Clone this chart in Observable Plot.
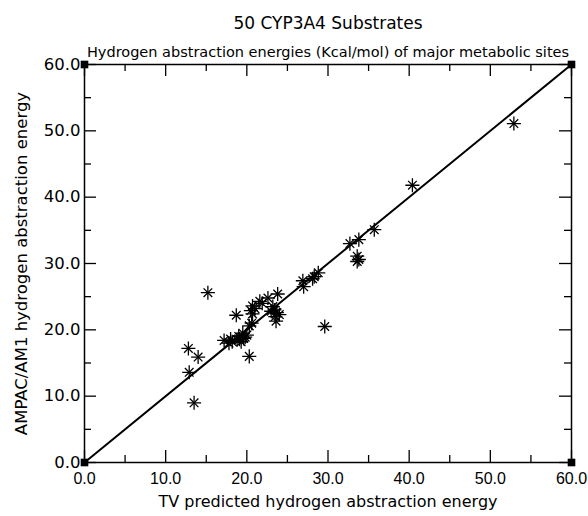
<!DOCTYPE html>
<html>
<head>
<meta charset="utf-8">
<script src="https://cdn.jsdelivr.net/npm/d3@7"></script>
<script src="https://cdn.jsdelivr.net/npm/@observablehq/plot@0.6"></script>
<style>
  html, body { margin: 0; padding: 0; background: #fff; }
  #chart svg { display: block; }
</style>
</head>
<body>
<div id="chart"></div>
<script>
const title = "50 CYP3A4 Substrates";
const subtitle = "Hydrogen abstraction energies (Kcal/mol) of major metabolic sites";
const xLabel = "TV predicted hydrogen abstraction energy";
const yLabel = "AMPAC/AM1 hydrogen abstraction energy";

// TV predicted energies (x) and AMPAC/AM1 energies (y)
const tvPredicted = [
  52.9, 40.4, 35.7, 33.8, 32.7, 33.6, 33.6, 28.8, 28.1, 26.9,
  27.0, 29.6, 23.8, 22.6, 21.9, 20.7, 20.5, 18.7, 23.4, 23.7,
  23.2, 23.6, 20.3, 19.5, 19.1, 18.2, 17.2, 20.3, 12.8, 14.0,
  12.9, 15.2, 13.5, 20.7, 19.8, 19.3, 18.8, 19.6, 20.0, 24.0,
  23.0, 21.0, 21.6, 18.0, 19.0, 23.5, 20.6, 33.8, 28.3, 17.8
];
const ampacAM1 = [
  51.1, 41.8, 35.1, 33.6, 33.0, 31.1, 30.3, 28.6, 27.7, 27.4,
  26.5, 20.5, 25.4, 24.8, 24.0, 23.6, 22.9, 22.2, 23.0, 22.6,
  23.5, 21.3, 20.6, 19.5, 18.6, 18.2, 18.4, 16.0, 17.2, 15.9,
  13.6, 25.6, 9.0, 22.4, 18.9, 18.2, 18.5, 18.7, 19.2, 22.3,
  22.8, 23.2, 24.3, 18.6, 19.0, 22.0, 21.0, 30.6, 28.0, 18.0
];
// Reference line y = x
const lineX = [0, 60];
const lineY = [0, 60];
const majorTicks = [0, 10, 20, 30, 40, 50, 60];
const minorTicks = [5, 15, 25, 35, 45, 55];
const cornerX = [0, 60, 0, 60];
const cornerY = [0, 0, 60, 60];

const points = tvPredicted.map((x, i) => ({x, y: ampacAM1[i]}));
const line = lineX.map((x, i) => ({x, y: lineY[i]}));
const corners = cornerX.map((x, i) => ({x, y: cornerY[i]}));

const W = 588, H = 516;
const mL = 84, mR = 17, mT = 64, mB = 54;
const innerH = H - mT - mB, innerW = W - mL - mR;
const font = "'DejaVu Sans', sans-serif";

const chart = Plot.plot({
  width: W, height: H,
  marginLeft: mL, marginRight: mR, marginTop: mT, marginBottom: mB,
  style: {fontFamily: font, background: "#fff", color: "#000"},
  x: {domain: [0, 60], ticks: majorTicks, label: null},
  y: {domain: [0, 60], ticks: majorTicks, label: null},
  marks: [
    Plot.frame({stroke: "#000", strokeWidth: 1.5}),
    // inward tick marks
    Plot.tickX(majorTicks, {x: d => d, insetTop: innerH - 12, stroke: "#000", strokeWidth: 1.3}),
    Plot.tickX(majorTicks, {x: d => d, insetBottom: innerH - 12, stroke: "#000", strokeWidth: 1.3}),
    Plot.tickX(minorTicks, {x: d => d, insetTop: innerH - 7, stroke: "#000", strokeWidth: 1.3}),
    Plot.tickX(minorTicks, {x: d => d, insetBottom: innerH - 7, stroke: "#000", strokeWidth: 1.3}),
    Plot.tickY(majorTicks, {y: d => d, insetRight: innerW - 12, stroke: "#000", strokeWidth: 1.3}),
    Plot.tickY(majorTicks, {y: d => d, insetLeft: innerW - 12, stroke: "#000", strokeWidth: 1.3}),
    Plot.tickY(minorTicks, {y: d => d, insetRight: innerW - 7, stroke: "#000", strokeWidth: 1.3}),
    Plot.tickY(minorTicks, {y: d => d, insetLeft: innerW - 7, stroke: "#000", strokeWidth: 1.3}),
    Plot.axisX(majorTicks, {anchor: "bottom", tickSize: 0, tickPadding: 10, tickFormat: d3.format(".1f"), fontSize: 16, fontFamily: "'Liberation Sans', sans-serif", fill: "#000", label: null}),
    Plot.axisY(majorTicks, {anchor: "left", tickSize: 0, tickPadding: 4, tickFormat: d3.format(".1f"), fontSize: 16.5, fill: "#000", label: null}),
    Plot.line(line, {x: "x", y: "y", stroke: "#000", strokeWidth: 2}),
    Plot.dot(points, {x: "x", y: "y", symbol: "plus", r: 4.6, stroke: "#000", strokeWidth: 1.3, clip: false}),
    Plot.dot(points, {x: "x", y: "y", symbol: "times", r: 4, stroke: "#000", strokeWidth: 1.3, clip: false}),
    Plot.dot(corners, {x: "x", y: "y", symbol: "square", r: 4.3, fill: "#000", stroke: "none"}),
    Plot.text([title], {frameAnchor: "top", text: d => d, dy: -48, fontSize: 17, fill: "#000"}),
    Plot.text([subtitle], {frameAnchor: "top", text: d => d, dy: -18, fontSize: 14.5, fill: "#000"}),
    Plot.text([xLabel], {frameAnchor: "bottom", text: d => d, dy: 44, fontSize: 16, fill: "#000"}),
    Plot.text([yLabel], {frameAnchor: "left", textAnchor: "middle", text: d => d, dx: -63, rotate: -90, fontSize: 16.5, fill: "#000"})
  ]
});
document.getElementById("chart").appendChild(chart);
</script>
</body>
</html>
